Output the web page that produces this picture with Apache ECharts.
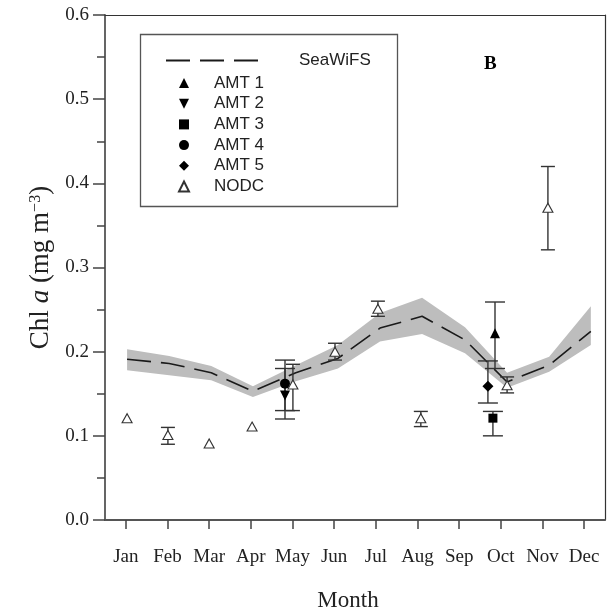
<!DOCTYPE html>
<html>
<head>
<meta charset="utf-8">
<script src="https://cdn.jsdelivr.net/npm/echarts@6/dist/echarts.min.js"></script>
<style>html,body{margin:0;padding:0;background:#fff}#c{width:608px;height:613px}</style>
</head>
<body>
<div id="c"></div>
<script>
const monthLabels = ['Jan','Feb','Mar','Apr','May','Jun','Jul','Aug','Sep','Oct','Nov','Dec'];
const monthTicks = [1,2,3,4,5,6,7,8,9,10,11,12];

const seawifsX    = [1.03, 2.04, 3.05, 4.05, 5.08, 6.09, 7.10, 8.11, 9.14, 10.15, 11.16, 12.16];
const seawifsMean = [0.191, 0.186, 0.175, 0.153, 0.175, 0.192, 0.228, 0.242, 0.214, 0.164, 0.184, 0.224];
const seawifsLow  = [0.178, 0.172, 0.166, 0.146, 0.165, 0.180, 0.212, 0.221, 0.198, 0.157, 0.176, 0.208];
const seawifsHigh = [0.203, 0.195, 0.183, 0.159, 0.184, 0.208, 0.246, 0.264, 0.229, 0.175, 0.194, 0.254];

const nodcX    = [1.03, 2.01, 3.00, 4.03, 5.01, 6.02, 7.05, 8.08, 10.15, 11.13];
const nodcVal  = [0.121, 0.101, 0.091, 0.111, 0.161, 0.200, 0.251, 0.121, 0.160, 0.371];
const nodcLow  = [null, 0.090, null, null, 0.130, 0.190, 0.242, 0.111, 0.151, 0.321];
const nodcHigh = [null, 0.110, null, null, 0.185, 0.210, 0.260, 0.129, 0.170, 0.420];

const amtNames = ['AMT 1', 'AMT 2', 'AMT 3', 'AMT 4', 'AMT 5'];
const amtX     = [9.86, 4.82, 9.81, 4.82, 9.69];
const amtVal   = [0.222, 0.148, 0.121, 0.162, 0.159];
const amtLow   = [0.180, 0.120, 0.100, 0.130, 0.139];
const amtHigh  = [0.259, 0.190, 0.129, 0.180, 0.189];
const amtSymbols = ['triangle', 'triangle', 'rect', 'circle', 'diamond'];
const amtRotate  = [0, 180, 0, 0, 0];
const amtSizes   = [10, 10, 9, 10, 11];

const SERIF = '"Liberation Serif","Times New Roman",serif';
const SANS = '"Liberation Sans",Arial,sans-serif';
const INK = '#222';

function errRender(capW) {
  return function (params, api) {
    const x = api.value(0), lo = api.value(1), hi = api.value(2);
    const a = api.coord([x, lo]), b = api.coord([x, hi]);
    const st = { stroke: '#333', lineWidth: 1.4, fill: null };
    return { type: 'group', children: [
      { type: 'line', shape: { x1: a[0], y1: a[1], x2: b[0], y2: b[1] }, style: st },
      { type: 'line', shape: { x1: a[0] - capW / 2, y1: a[1], x2: a[0] + capW / 2, y2: a[1] }, style: st },
      { type: 'line', shape: { x1: b[0] - capW / 2, y1: b[1], x2: b[0] + capW / 2, y2: b[1] }, style: st }
    ]};
  };
}

const series = [];

series.push({
  type: 'custom', name: 'band', silent: true, z: 1,
  data: [[seawifsX[0], seawifsLow[0]]],
  renderItem: function (params, api) {
    const pts = [];
    for (let i = 0; i < seawifsX.length; i++) pts.push(api.coord([seawifsX[i], seawifsHigh[i]]));
    for (let i = seawifsX.length - 1; i >= 0; i--) pts.push(api.coord([seawifsX[i], seawifsLow[i]]));
    return { type: 'polygon', shape: { points: pts }, style: { fill: '#bdbdbd', stroke: null } };
  }
});

series.push({
  type: 'line', name: 'SeaWiFS', z: 3,
  data: seawifsX.map((x, i) => [x, seawifsMean[i]]),
  symbol: 'none',
  lineStyle: { color: '#1a1a1a', width: 1.6, type: [24, 10] },
  itemStyle: { color: '#1a1a1a' }
});

series.push({
  type: 'custom', name: 'nodcErr', silent: true, z: 4,
  data: nodcX.map((x, i) => [x, nodcLow[i], nodcHigh[i]]).filter(d => d[1] !== null),
  encode: { x: 0, y: [1, 2] },
  renderItem: errRender(14)
});

series.push({
  type: 'custom', name: 'amtErr', silent: true, z: 4,
  data: amtX.map((x, i) => [x, amtLow[i], amtHigh[i]]),
  encode: { x: 0, y: [1, 2] },
  renderItem: errRender(20)
});

amtNames.forEach((n, i) => {
  series.push({
    type: 'scatter', name: n, z: 6,
    data: [[amtX[i], amtVal[i]]],
    symbol: amtSymbols[i], symbolRotate: amtRotate[i], symbolSize: amtSizes[i],
    itemStyle: { color: '#000', opacity: 1 }
  });
});

series.push({
  type: 'scatter', name: 'NODC', z: 6,
  data: nodcX.map((x, i) => [x, nodcVal[i]]),
  symbol: 'triangle', symbolSize: [10, 9],
  itemStyle: { color: '#fff', borderColor: '#333', borderWidth: 1.1, opacity: 1 }
});

const option = {
  animation: false,
  backgroundColor: '#fff',
  title: {
    text: 'B', left: 479, top: 50,
    textStyle: { fontFamily: SERIF, fontWeight: 'bold', fontSize: 19, color: '#000' }
  },
  grid: { left: 105, right: 3, top: 15, bottom: 93, containLabel: false, outerBoundsMode: 'none' },
  legend: [
    {
      data: [{ name: 'SeaWiFS', itemStyle: { color: 'rgba(0,0,0,0)', borderColor: 'rgba(0,0,0,0)', opacity: 0 } }],
      left: 160, top: 47, orient: 'horizontal',
      itemWidth: 97, itemHeight: 20,
      textStyle: { fontFamily: SANS, fontSize: 17, color: INK, padding: [0, 0, 0, 31] },
      selectedMode: false
    },
    {
      data: [
        { name: 'AMT 1', icon: 'path://M5,0 L10,10 L0,10 Z' },
        { name: 'AMT 2', icon: 'path://M0,0 L10,0 L5,10 Z' },
        { name: 'AMT 3', icon: 'rect' },
        { name: 'AMT 4', icon: 'circle' },
        { name: 'AMT 5', icon: 'diamond' },
        { name: 'NODC' }
      ],
      left: 173, top: 68, orient: 'vertical',
      itemWidth: 10, itemHeight: 10, itemGap: 0.7,
      textStyle: { fontFamily: SANS, fontSize: 17, lineHeight: 20, color: INK, padding: [0, 0, 0, 20] },
      selectedMode: false
    }
  ],
  graphic: [
    { type: 'rect', left: 138, top: 32, shape: { width: 257, height: 172 },
      style: { fill: null, stroke: '#555', lineWidth: 1.3 }, z: 10 }
  ],
  xAxis: [
    {
      type: 'value', min: 0.5, max: 12.5, position: 'bottom',
      axisLine: { show: true, lineStyle: { color: '#555', width: 1.8 } },
      axisTick: { show: false }, axisLabel: { show: false }, splitLine: { show: false },
      name: 'Month', nameLocation: 'middle', nameGap: 69,
      nameTextStyle: { fontFamily: SERIF, fontSize: 23, color: INK, padding: [0, 14, 0, 0] }
    },
    {
      type: 'value', min: 0.5, max: 12.5, position: 'bottom', offset: 4,
      axisLine: { show: false },
      axisTick: { show: true, customValues: monthTicks, length: 9, lineStyle: { color: '#444', width: 1.5 } },
      axisLabel: {
        show: true, customValues: monthTicks, margin: 24,
        formatter: v => monthLabels[Math.round(v) - 1],
        fontFamily: SERIF, fontSize: 19, color: INK
      },
      splitLine: { show: false }
    },
    {
      type: 'value', min: 0.5, max: 12.5, position: 'top',
      axisLine: { show: true, lineStyle: { color: '#333', width: 1.2 } },
      axisTick: { show: false }, axisLabel: { show: false }, splitLine: { show: false }
    }
  ],
  yAxis: [
    {
      type: 'value', min: 0, max: 0.6, interval: 0.1,
      axisLine: { show: true, lineStyle: { color: '#555', width: 1.8 } },
      axisTick: { show: true, length: 12, lineStyle: { color: '#444', width: 1.5 } },
      minorTick: { show: true, splitNumber: 2, length: 8, lineStyle: { color: '#444', width: 1.5 } },
      axisLabel: { margin: 16, formatter: v => v.toFixed(1), fontFamily: SERIF, fontSize: 19, color: INK },
      splitLine: { show: false },
      name: '{a|Chl }{i|a}{a| (mg m}{s|−3}{a|)}',
      nameLocation: 'middle', nameRotate: 90, nameGap: 50,
      nameTextStyle: {
        rich: {
          a: { fontFamily: SERIF, fontSize: 27, color: INK },
          i: { fontFamily: SERIF, fontSize: 27, fontStyle: 'italic', color: INK },
          s: { fontFamily: SERIF, fontSize: 16, color: INK, verticalAlign: 'top' }
        }
      }
    },
    {
      type: 'value', min: 0, max: 0.6, position: 'right',
      axisLine: { show: true, lineStyle: { color: '#333', width: 1.2 } },
      axisTick: { show: false }, axisLabel: { show: false }, splitLine: { show: false }
    }
  ],
  series: series
};

const chart = echarts.init(document.getElementById('c'), null, { renderer: 'canvas' });
chart.setOption(option);
</script>
</body>
</html>
